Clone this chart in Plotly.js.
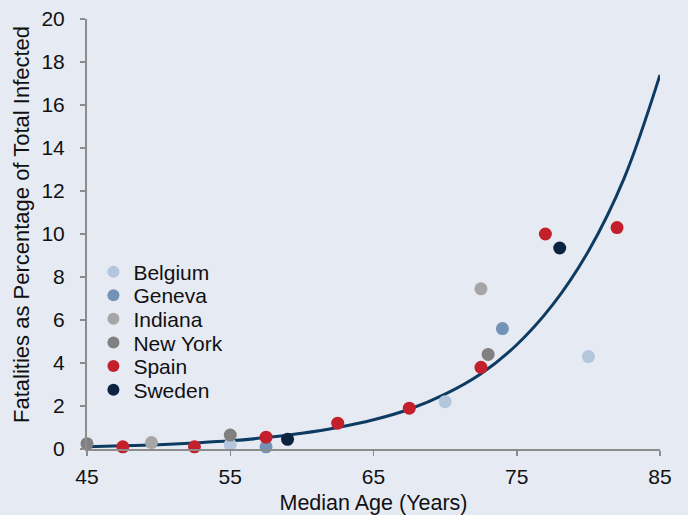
<!DOCTYPE html>
<html>
<head>
<meta charset="utf-8">
<script src="https://cdn.plot.ly/plotly-3.0.1.min.js"></script>
<style>html,body{margin:0;padding:0;background:#e6eaf3;}#chart{width:688px;height:515px;}</style>
</head>
<body>
<div id="chart"></div>
<script>
// Scatter data: [median age, fatality %]
const belgiumAge = [55, 70, 80];
const belgiumRate = [0.2, 2.2, 4.3];
const genevaAge = [57.5, 74];
const genevaRate = [0.1, 5.6];
const indianaAge = [49.5, 72.5];
const indianaRate = [0.3, 7.45];
const newYorkAge = [45, 55, 73];
const newYorkRate = [0.25, 0.65, 4.4];
const spainAge = [47.5, 52.5, 57.5, 62.5, 67.5, 72.5, 77, 82];
const spainRate = [0.1, 0.1, 0.55, 1.2, 1.9, 3.8, 10.0, 10.3];
const swedenAge = [59, 78];
const swedenRate = [0.45, 9.35];

// Trend curve
const trendAge = [45, 47.5, 50, 52.5, 55, 57.5, 60, 62.5, 65, 67.5, 70, 72.5, 75, 77.5, 80, 82.5, 85];
const trendRate = [0.1, 0.15, 0.2, 0.28, 0.38, 0.53, 0.73, 1.0, 1.36, 1.85, 2.55, 3.5, 4.85, 6.7, 9.2, 12.6, 17.4];

const xTicks = [45, 55, 65, 75, 85];
const yTicks = [0, 2, 4, 6, 8, 10, 12, 14, 16, 18, 20];

const seriesNames = ['Belgium', 'Geneva', 'Indiana', 'New York', 'Spain', 'Sweden'];
const seriesColors = ['#b3c6dc', '#7393b6', '#a6a6a6', '#808080', '#c4202b', '#0b2240'];
const seriesX = [belgiumAge, genevaAge, indianaAge, newYorkAge, spainAge, swedenAge];
const seriesY = [belgiumRate, genevaRate, indianaRate, newYorkRate, spainRate, swedenRate];

const font = 'Liberation Sans, Arial, sans-serif';
const traces = [
  {type: 'scatter', mode: 'lines', x: trendAge, y: trendRate, showlegend: false,
    line: {color: '#0d3b62', width: 3, shape: 'spline'}, hoverinfo: 'skip'}
];
const layout = {
  width: 688, height: 515,
  paper_bgcolor: '#e6eaf3', plot_bgcolor: '#e6eaf3',
  margin: {l: 87, r: 28, t: 19, b: 66},
  font: {family: font, size: 21, color: '#111'},
  showlegend: true,
  xaxis: {range: [45, 85], tickvals: xTicks, ticktext: xTicks.map(String), showgrid: false, zeroline: false,
    showline: true, linecolor: '#8c8c8c', linewidth: 2, ticks: 'outside', ticklen: 5, tickwidth: 1.5, tickcolor: '#8c8c8c',
    ticklabelstandoff: 3, tickfont: {family: font, size: 21, color: '#111'},
    title: {text: 'Median Age (Years)', font: {family: font, size: 21.5, color: '#111'}, standoff: 9}},
  yaxis: {range: [0, 20], tickvals: yTicks, ticktext: yTicks.map(String), showgrid: false, zeroline: false,
    showline: true, linecolor: '#8c8c8c', linewidth: 2, ticks: 'outside', ticklen: 5, tickwidth: 1.5, tickcolor: '#8c8c8c',
    ticklabelstandoff: 11, tickfont: {family: font, size: 21, color: '#111'}},
  annotations: [{text: 'Fatalities as Percentage of Total Infected', xref: 'paper', yref: 'paper',
    x: -0.1134, y: 0.521, xanchor: 'center', yanchor: 'middle', textangle: -90, showarrow: false,
    font: {family: font, size: 22, color: '#111'}}]
};
// one legend per series so the entries can sit at the reference spacing
const legendTop = 272, legendStep = 23.6;
seriesNames.forEach(function (name, i) {
  const key = i === 0 ? 'legend' : 'legend' + (i + 1);
  traces.push({type: 'scatter', mode: 'markers', name: name, x: seriesX[i], y: seriesY[i], cliponaxis: false,
    legend: key, marker: {size: 13, color: seriesColors[i], line: {width: 0}}});
  const yPix = legendTop + i * legendStep;
  layout[key] = {x: 0.0112, y: (449 - yPix) / 430, xanchor: 'left', yanchor: 'middle', bgcolor: 'rgba(0,0,0,0)',
    font: {family: font, size: 21, color: '#111'}, itemsizing: 'constant'};
});
Plotly.newPlot('chart', traces, layout, {displayModeBar: false, staticPlot: true});
</script>
</body>
</html>
